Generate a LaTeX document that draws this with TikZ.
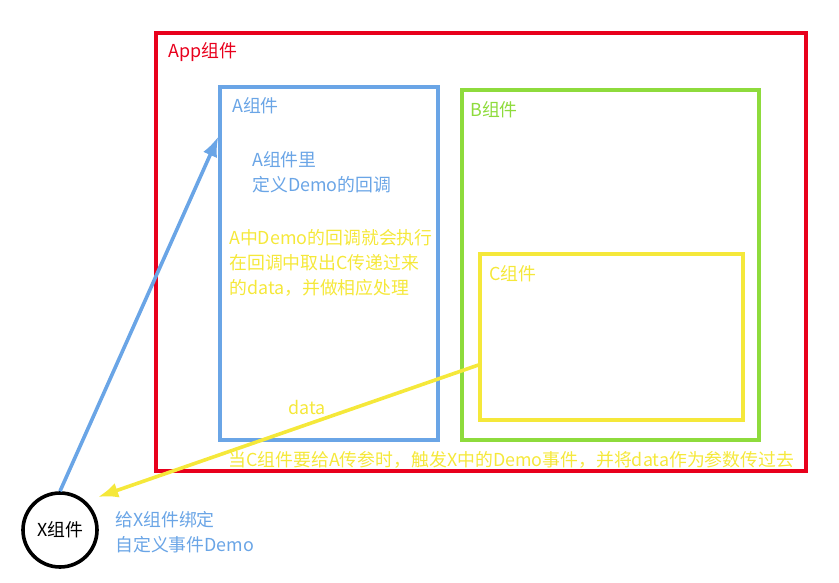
\documentclass[tikz,border=0pt]{standalone}
\usepackage{fontspec}
\setmainfont{Noto Sans CJK SC}
\usetikzlibrary{arrows.meta,positioning,calc}
\definecolor{appred}{HTML}{E8001C}
\definecolor{ablue}{HTML}{6AA5E6}
\definecolor{bgreen}{HTML}{8EDB3C}
\definecolor{cyellow}{HTML}{F5E83A}

\begin{document}
\begin{tikzpicture}[x=0.75pt,y=-0.75pt,>=Latex,
  box/.style={draw,line width=2.4pt,inner sep=0pt},
  lbl/.style={anchor=west,inner sep=0pt,font=\fontsize{13.4pt}{18.75pt}\selectfont,align=left}]
\useasboundingbox (0,0) rectangle (839,582);
% boxes (sizes in pt: px * 0.75)
\node[box,appred,line width=3pt,minimum width=487.5pt,minimum height=328.5pt] (app) at (481,252) {};
\node[box,ablue,minimum width=163.5pt,minimum height=264.75pt] (a) at (329,263.5) {};
\node[box,bgreen,minimum width=222.75pt,minimum height=262.5pt] (b) at (610.5,265) {};
\node[box,cyellow,minimum width=197.25pt,minimum height=124.5pt] (c) at (611.5,337) {};
\node[draw,circle,line width=2.7pt,minimum size=55.5pt] (x) at (60,530) {};

\node[lbl,text=appred] (applbl) at (168,52) {App组件};
\node[lbl,text=ablue] (albl) at (232,106) {A组件};
\node[lbl,text=ablue] (adef) at (252,172.5) {A组件里\\定义Demo的回调};
\node[lbl,text=cyellow] (ahandle) at (229,263) {A中Demo的回调就会执行\\在回调中取出C传递过来\\的data，并做相应处理};
\node[lbl,text=cyellow] (datalbl) at (288,407) {data};
\node[lbl,text=bgreen] (blbl) at (470,110) {B组件};
\node[lbl,text=cyellow] (clbl) at (489,274) {C组件};
\node[lbl,text=cyellow] (emit) at (228,460) {当C组件要给A传参时，触发X中的Demo事件，并将data作为参数传过去};
\node[lbl,anchor=center] (xlbl) at (x) {X组件};
\node[lbl,text=ablue] (bind) at (115,532.5) {给X组件绑定\\自定义事件Demo};

\coordinate (xtip) at ($(x.center)+(38,-33)$);
\draw[->,ablue,line width=2.7pt] (x.north) -- ($(a.north west)+(0,51)$);
\draw[->,cyellow,line width=2.7pt] ($(c.west)+(0,28)$) -- (xtip);
\end{tikzpicture}
\end{document}
